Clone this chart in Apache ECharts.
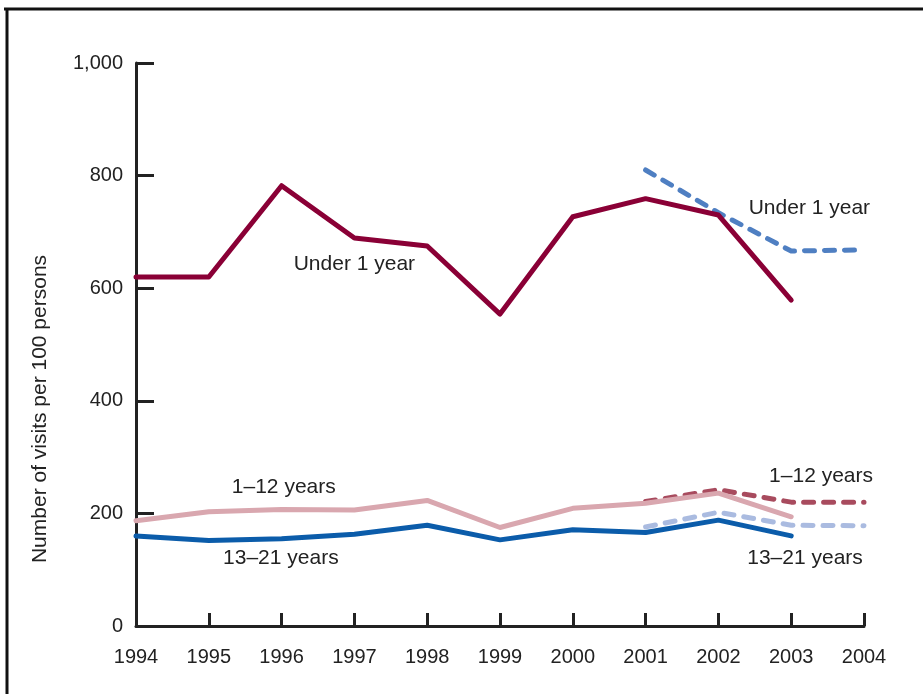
<!DOCTYPE html>
<html>
<head>
<meta charset="utf-8">
<script src="https://cdn.jsdelivr.net/npm/echarts@6/dist/echarts.min.js"></script>
<style>
  html, body { margin: 0; padding: 0; background: #fff; }
  #chart { width: 923px; height: 694px; }
</style>
</head>
<body>
<div id="chart"></div>
<script>
// years on the x axis
const years = [1994, 1995, 1996, 1997, 1998, 1999, 2000, 2001, 2002, 2003, 2004]
// solid lines, 1994-2003
const under1 = [620, 620, 782, 689, 675, 554, 727, 759, 730, 579]
const age1to12 = [187, 203, 207, 206, 223, 175, 209, 218, 236, 194]
const age13to21 = [160, 152, 155, 163, 179, 153, 171, 166, 188, 160]
// dashed lines, 2001-2004
const dashYears = [2001, 2002, 2003, 2004]
const under1Dash = [810, 734, 666, 668]
const age1to12Dash = [221, 242, 220, 220]
const age13to21Dash = [176, 202, 179, 178]

const pairs = (xs, ys) => ys.map((v, i) => [xs[i], v])

const textColor = '#222'
const font = 'Liberation Sans, Arial, sans-serif'

// text placed at a data position
function tag (text, x, y) {
  return {
    coord: [x, y],
    symbol: 'circle',
    symbolSize: 1,
    itemStyle: { color: 'rgba(0,0,0,0)' },
    label: { show: true, formatter: text, color: textColor, fontSize: 21, fontFamily: font, position: 'inside' }
  }
}

function solid (name, data, color, tags) {
  return {
    name: name,
    type: 'line',
    data: pairs(years, data),
    symbol: 'none',
    lineStyle: { color: color, width: 5, cap: 'round', join: 'round' },
    markPoint: { silent: true, data: tags },
    z: 3
  }
}

function dashed (name, data, color, tags) {
  return {
    name: name,
    type: 'line',
    data: pairs(dashYears, data),
    symbol: 'none',
    lineStyle: { color: color, width: 5, type: [10, 10], cap: 'round', join: 'round' },
    markPoint: { silent: true, data: tags },
    z: 2
  }
}

const myChart = echarts.init(document.getElementById('chart'))
myChart.setOption({
  animation: false,
  backgroundColor: '#fff',
  grid: { left: 136, right: 59, top: 63, bottom: 68 },
  xAxis: {
    type: 'value',
    min: 1994,
    max: 2004,
    interval: 1,
    splitLine: { show: false },
    axisLine: { lineStyle: { color: textColor, width: 3 } },
    axisTick: { inside: true, length: 13, lineStyle: { color: textColor, width: 3 } },
    axisLabel: { color: textColor, fontSize: 20, fontFamily: font, margin: 21, formatter: v => String(v) }
  },
  yAxis: {
    type: 'value',
    min: 0,
    max: 1000,
    interval: 200,
    splitLine: { show: false },
    axisLine: { show: true, lineStyle: { color: textColor, width: 3 } },
    axisTick: { show: true, inside: true, length: 18, lineStyle: { color: textColor, width: 3 } },
    axisLabel: { color: textColor, fontSize: 20, fontFamily: font, margin: 13 }
  },
  graphic: [
    { type: 'line', shape: { x1: 4, y1: 9, x2: 923, y2: 9 }, style: { stroke: '#111', lineWidth: 3 } },
    { type: 'line', shape: { x1: 7, y1: 8, x2: 7, y2: 694 }, style: { stroke: '#111', lineWidth: 3 } },
    {
      type: 'text',
      x: 40,
      y: 409,
      rotation: Math.PI / 2,
      style: {
        text: 'Number of visits per 100 persons',
        fill: textColor,
        fontSize: 21,
        fontFamily: font,
        align: 'center',
        verticalAlign: 'middle'
      }
    }
  ],
  series: [
    solid('Under 1 year', under1, '#8a0036', [tag('Under 1 year', 1997, 643)]),
    dashed('Under 1 year (new)', under1Dash, '#4f7fc2', [tag('Under 1 year', 2003.25, 742)]),
    solid('1–12 years', age1to12, '#d9a7af', [tag('1–12 years', 1996.03, 247)]),
    dashed('1–12 years (new)', age1to12Dash, '#a84b5e', [tag('1–12 years', 2003.41, 266)]),
    solid('13–21 years', age13to21, '#0b5caa', [tag('13–21 years', 1995.99, 121)]),
    dashed('13–21 years (new)', age13to21Dash, '#aabbe0', [tag('13–21 years', 2003.19, 121)])
  ]
})
</script>
</body>
</html>
